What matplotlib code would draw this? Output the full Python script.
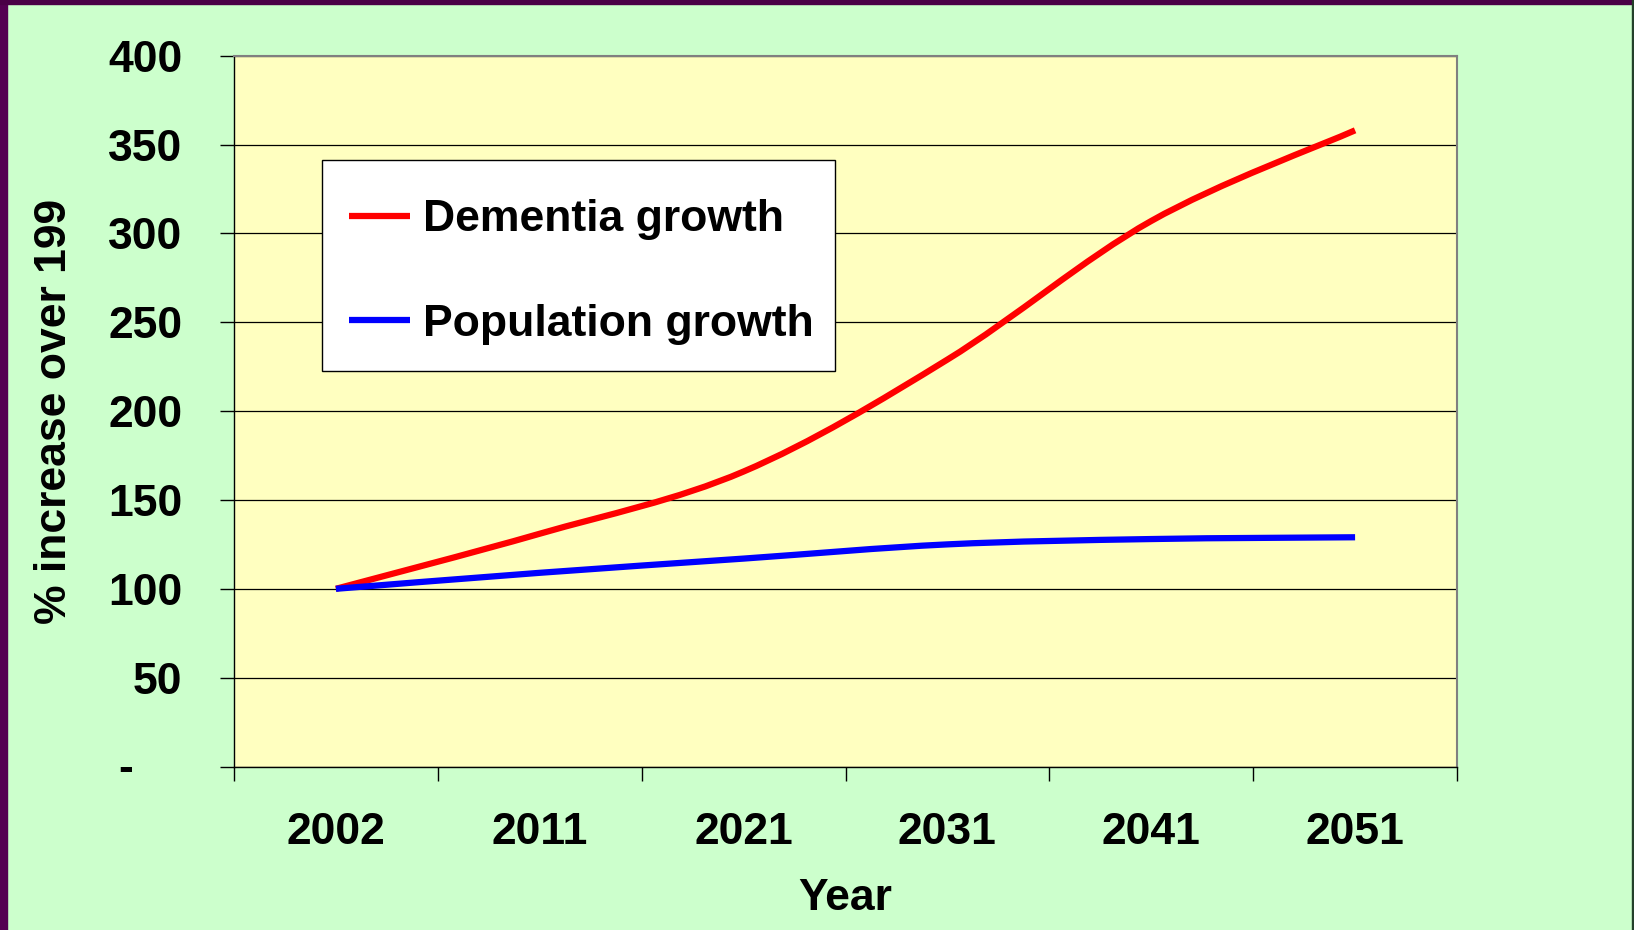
import numpy as np
import matplotlib
matplotlib.use("Agg")
import matplotlib.pyplot as plt
from matplotlib.path import Path
from matplotlib.patches import PathPatch, Rectangle
from matplotlib.lines import Line2D

# projected growth, indexed to 100 in the first year
years = ["2002", "2011", "2021", "2031", "2041", "2051"]
dementia = [100, 131, 166, 229, 307, 358]
population = [100, 109, 117, 125, 128, 129]
yticks = [0, 50, 100, 150, 200, 250, 300, 350, 400]

plt.rcParams["font.family"] = ["Liberation Sans", "DejaVu Sans"]
plt.rcParams["font.weight"] = "bold"
FS = 32


def smooth_path(xs, ys):
    # bezier curve through the points, like a spreadsheet "smoothed line"
    pts = np.column_stack([xs, ys]).astype(float)
    n = len(pts)
    verts = [pts[0]]
    codes = [Path.MOVETO]
    for i in range(n - 1):
        p0 = pts[i - 1] if i > 0 else pts[i]
        p1 = pts[i]
        p2 = pts[i + 1]
        p3 = pts[i + 2] if i + 2 < n else pts[i + 1]
        verts += [p1 + (p2 - p0) / 6, p2 - (p3 - p1) / 6, p2]
        codes += [Path.CURVE4] * 3
    return Path(verts, codes)


fig = plt.figure(figsize=(16.34, 9.30), dpi=100, facecolor="#CCFFCC")
ax = fig.add_axes([234 / 1634, 1 - 766.5 / 930, 1223 / 1634, 710.8 / 930])
ax.set_facecolor("#FFFFC0")

x = np.arange(len(years))
ax.add_patch(PathPatch(smooth_path(x, dementia), fill=False, edgecolor="#FF0000",
                       lw=4.5, capstyle="butt", zorder=3))
ax.add_patch(PathPatch(smooth_path(x, population), fill=False, edgecolor="#0000FF",
                       lw=4.5, capstyle="butt", zorder=3))

ax.set_xlim(-0.5, len(years) - 0.5)
ax.set_ylim(0, 400)

# y axis
ax.set_yticks(yticks)
ax.set_yticklabels([str(v) if v else "" for v in yticks])
ax.tick_params(axis="y", direction="out", length=10, width=1, labelsize=FS, pad=27)
ax.yaxis.grid(True, color="black", lw=0.9)
ax.set_axisbelow(True)
ax.annotate("-", xy=(0, 0), xycoords=("axes fraction", "data"),
            xytext=(-72.7, -2.5), textcoords="offset points",
            ha="right", va="center", fontsize=FS, fontweight="bold")

# x axis: tick marks between categories, labels centred on them
ax.set_xticks(np.arange(len(years) + 1) - 0.5)
ax.set_xticklabels([])
ax.set_xticks(x, minor=True)
ax.set_xticklabels(years, minor=True)
ax.tick_params(axis="x", which="major", direction="out", length=10, width=1)
ax.tick_params(axis="x", which="minor", length=0, labelsize=FS, pad=33)

ax.set_xlabel("Year", fontsize=FS, fontweight="bold", labelpad=18)
ax.set_ylabel("% increase over 199", fontsize=FS, fontweight="bold", labelpad=24)

for side in ["top", "right"]:
    ax.spines[side].set_color("#808080")
    ax.spines[side].set_linewidth(1.5)
for side in ["left", "bottom"]:
    ax.spines[side].set_color("black")
    ax.spines[side].set_linewidth(1)

# legend box, then the entries placed inside it
ax.add_artist(Rectangle((322 / 1634, 1 - 371 / 930), 512.6 / 1634, 210.5 / 930,
                        transform=fig.transFigure, facecolor="white",
                        edgecolor="black", lw=1, zorder=5, clip_on=False))
handles = [Line2D([], [], color="#FF0000", lw=4.5, solid_capstyle="butt"),
           Line2D([], [], color="#0000FF", lw=4.5, solid_capstyle="butt")]
leg = ax.legend(handles, ["Dementia growth", "Population growth"],
                loc="center left", bbox_to_anchor=(349.2 / 1634, 1 - 272 / 930),
                bbox_transform=fig.transFigure, borderaxespad=0, borderpad=0,
                prop={"weight": "bold", "size": FS},
                handlelength=1.37, handletextpad=0.3, labelspacing=1.43,
                frameon=False)
leg.set_zorder(6)

# slide frame
fig.patches.append(Rectangle((0, 0), 7 / 1634, 1, transform=fig.transFigure,
                             color="#540052", zorder=10))
fig.patches.append(Rectangle((0, 1 - 4 / 930), 1, 4 / 930, transform=fig.transFigure,
                             color="#4A0046", zorder=10))
fig.patches.append(Rectangle((1 - 2 / 1634, 0), 2 / 1634, 1, transform=fig.transFigure,
                             color="#23402A", zorder=10))

fig.savefig("out.png", dpi=100, facecolor=fig.get_facecolor())
